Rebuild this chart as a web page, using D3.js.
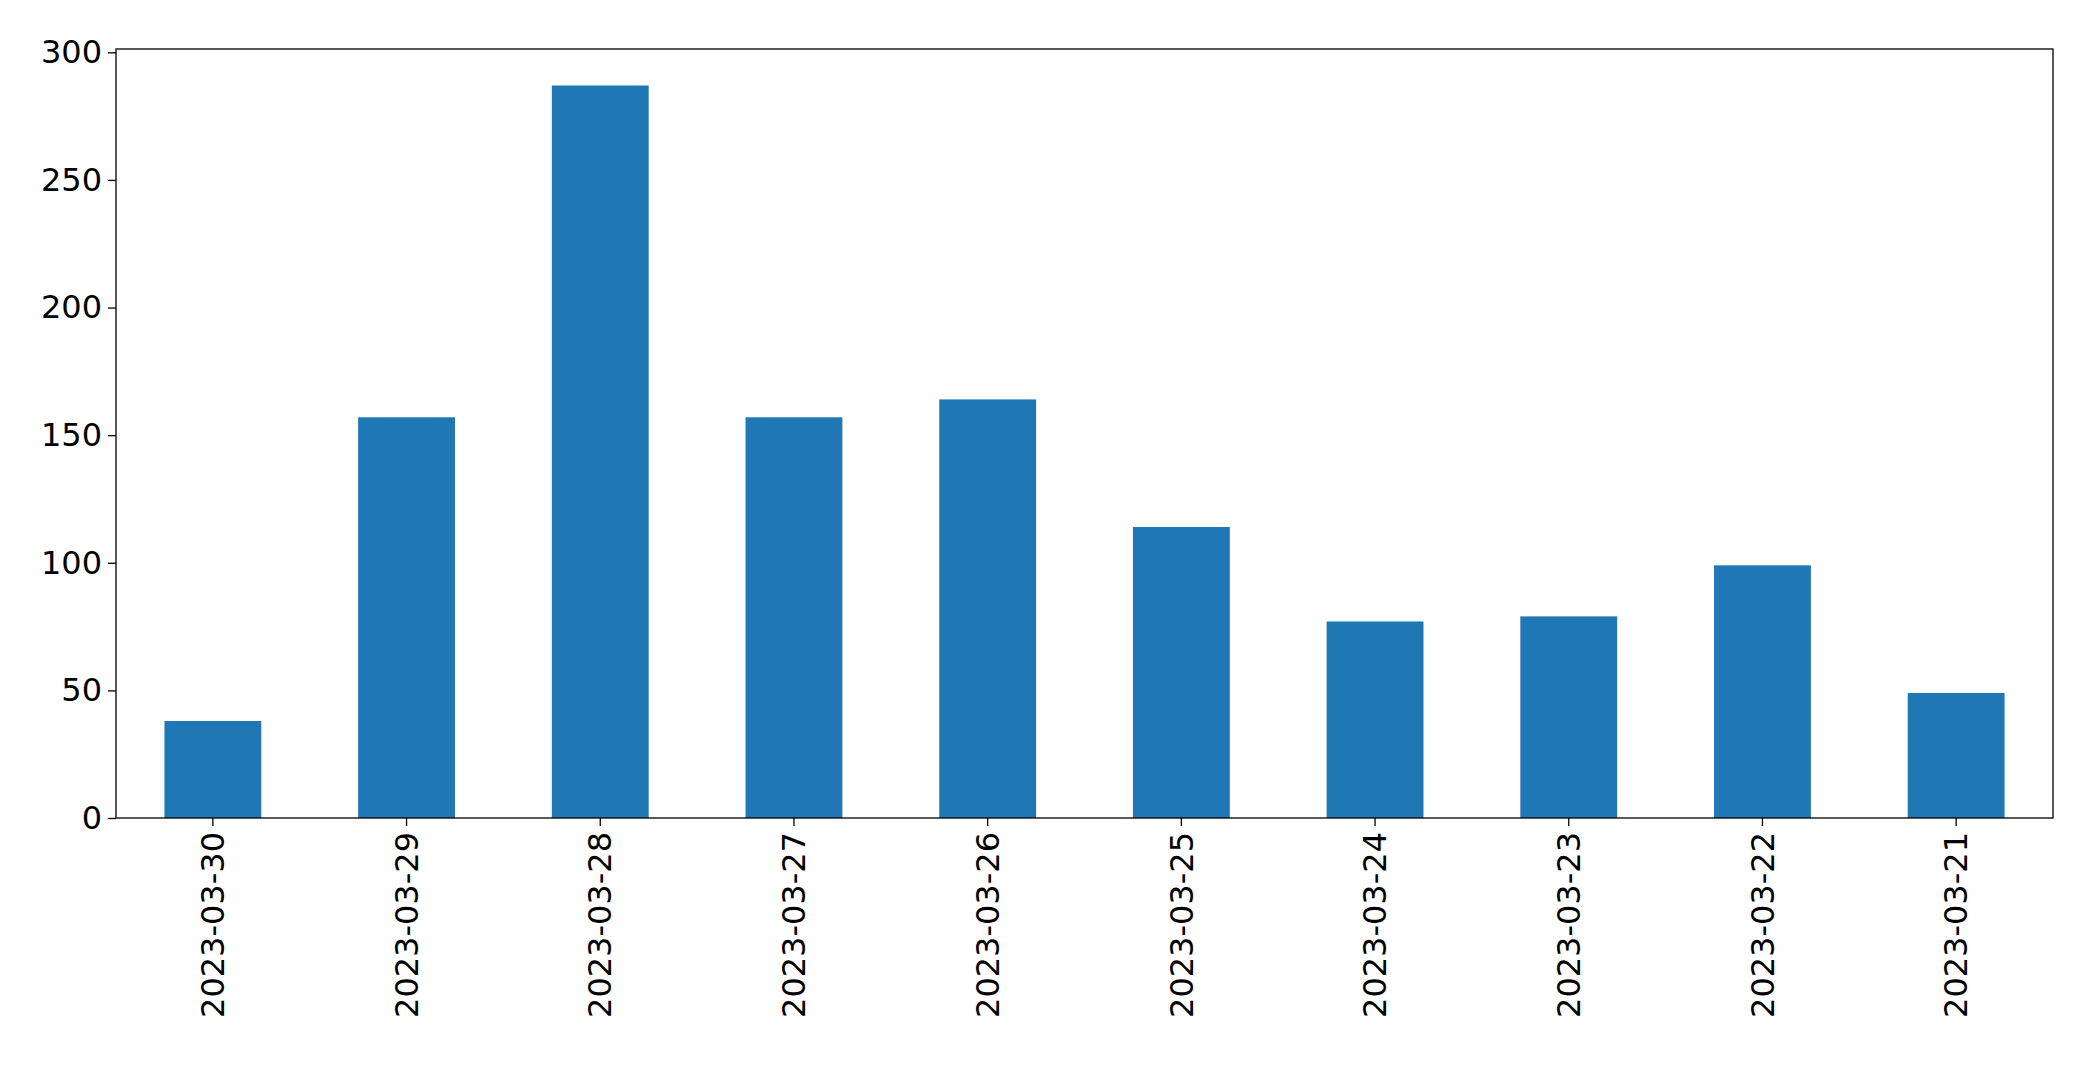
<!DOCTYPE html>
<html><head><meta charset="utf-8">
<script src="https://cdn.jsdelivr.net/npm/d3@7"></script>
<style>body{margin:0;background:#fff}svg{display:block}</style>
</head><body>
<svg id="chart" width="2093" height="1071"></svg>
<script>
// data
const dates = ['2023-03-30','2023-03-29','2023-03-28','2023-03-27','2023-03-26',
               '2023-03-25','2023-03-24','2023-03-23','2023-03-22','2023-03-21'];
const counts = [38, 157, 287, 157, 164, 114, 77, 79, 99, 49];
const yTicks = [0, 50, 100, 150, 200, 250, 300];

const svg = d3.select('#chart');
const L = 116, R = 2053, T = 49, B = 818;

const x = d3.scaleBand().domain(dates).range([L, R]).paddingInner(0.5).paddingOuter(0.25);
const y = d3.scaleLinear().domain([0, 301.3]).range([B, T]);

svg.append('g').selectAll('rect').data(dates).join('rect')
  .attr('x', d => x(d)).attr('width', x.bandwidth())
  .attr('y', (d, i) => y(counts[i])).attr('height', (d, i) => B - y(counts[i]))
  .attr('fill', '#1f77b4');

const font = 'DejaVu Sans, sans-serif';

const ya = svg.append('g').attr('transform', `translate(${L},0)`)
  .call(d3.axisLeft(y).tickValues(yTicks).tickSize(8).tickPadding(6));
ya.select('.domain').remove();
ya.selectAll('line').attr('stroke', '#000').attr('stroke-width', 1.3);
ya.selectAll('text').attr('font-size', 32).attr('font-family', font).attr('fill', '#000');

const xa = svg.append('g').attr('transform', `translate(0,${B})`)
  .call(d3.axisBottom(x).tickSize(8).tickPadding(6));
xa.select('.domain').remove();
xa.selectAll('line').attr('stroke', '#000').attr('stroke-width', 1.3);
xa.selectAll('text').attr('font-size', 32).attr('font-family', font).attr('fill', '#000')
  .attr('transform', 'rotate(-90)').attr('text-anchor', 'end')
  .attr('dy', '0.35em').attr('x', -14).attr('y', 0);

svg.append('rect').attr('x', L).attr('y', T).attr('width', R - L).attr('height', B - T)
  .attr('fill', 'none').attr('stroke', '#000').attr('stroke-width', 1.3);
</script>
</body></html>
